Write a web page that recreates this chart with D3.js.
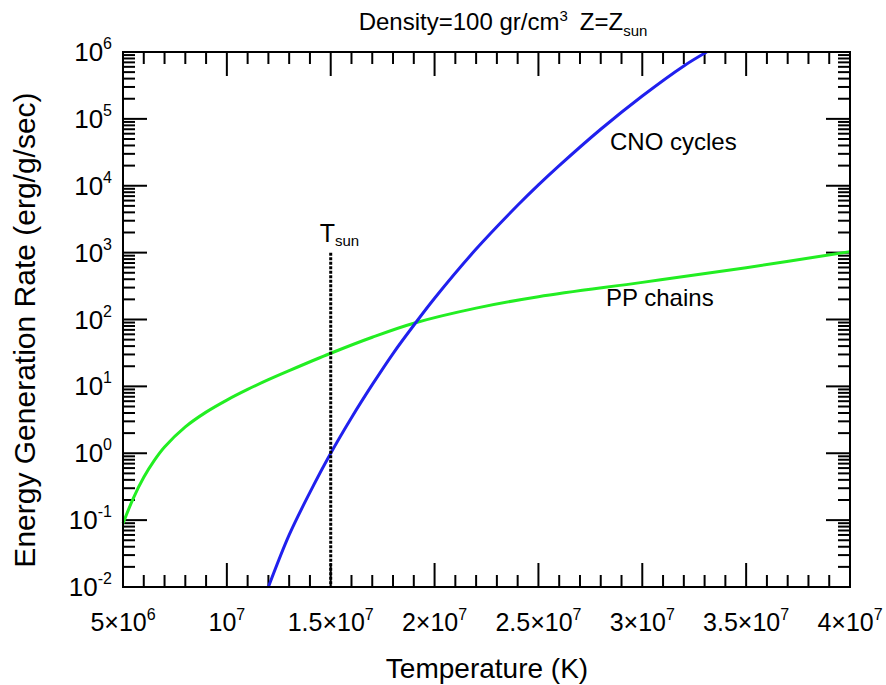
<!DOCTYPE html>
<html>
<head>
<meta charset="utf-8">
<script src="https://cdn.jsdelivr.net/npm/d3@7"></script>
<style>
	body { margin: 0; background: #fff; }
	text { font-family: "Liberation Sans", Arial, Helvetica, sans-serif; fill: #000; }
</style>
</head>
<body>
<svg id="chart" width="886" height="685"></svg>
<script>
/* Data */
const ppTemp = [5e6, 5.5e6, 6e6, 6.5e6, 7e6, 8e6, 9e6, 1e7, 1.1e7, 1.2e7, 1.3e7, 1.5e7, 1.7e7, 1.9e7, 2.2e7, 2.5e7, 3e7, 3.5e7, 4e7];
const ppRate = [0.089, 0.214, 0.437, 0.776, 1.24, 2.48, 4.12, 6.24, 9.0, 12.6, 17.2, 31.3, 54.3, 88, 148, 219, 359, 596, 1035];

const cnoTemp = [1.2e7, 1.3e7, 1.4e7, 1.5e7, 1.6e7, 1.7e7, 1.8e7, 1.9e7, 2e7, 2.2e7, 2.4e7, 2.5e7, 2.6e7, 2.8e7, 3e7, 3.2e7, 3.31e7];
const cnoRate = [0.01, 0.06, 0.26, 1.0, 3.4, 10.6, 31, 82, 208, 1130, 5100, 1.03e4, 2.0e4, 7.0e4, 2.2e5, 6.2e5, 1.0e6];

const tSun = 1.5e7;
const tSunTop = 1e3;

const xMajor = [5e6, 1e7, 1.5e7, 2e7, 2.5e7, 3e7, 3.5e7, 4e7];
const xTickLabels = [["5×10", "6"], ["10", "7"], ["1.5×10", "7"], ["2×10", "7"], ["2.5×10", "7"], ["3×10", "7"], ["3.5×10", "7"], ["4×10", "7"]];
const yExponents = [-2, -1, 0, 1, 2, 3, 4, 5, 6];

/* Layout */
const margin = { left: 123, right: 850, top: 52, bottom: 587 };
const majorLen = 24;
const minorLen = 12;

const svg = d3.select("#chart");

const x = d3.scaleLinear()
	.domain([5e6, 4e7])
	.range([margin.left, margin.right]);

const y = d3.scaleLog()
	.domain([1e-2, 1e6])
	.range([margin.bottom, margin.top]);

const xMinor = d3.range(5e6, 4e7 + 1, 1e6).filter((v) => !xMajor.includes(v));
const yMajor = yExponents.map((e) => Math.pow(10, e));
const yMinor = [];
yExponents.slice(0, -1).forEach((e) => {
	for (let k = 2; k <= 9; k++) yMinor.push(k * Math.pow(10, e));
});

/* Ticks on all four sides, pointing inward */
const ticks = svg.append("g")
	.attr("stroke", "#000")
	.attr("stroke-width", 2);

function xTicks(values, len) {
	values.forEach((v) => {
		ticks.append("line").attr("x1", x(v)).attr("x2", x(v))
			.attr("y1", margin.bottom).attr("y2", margin.bottom - len);
		ticks.append("line").attr("x1", x(v)).attr("x2", x(v))
			.attr("y1", margin.top).attr("y2", margin.top + len);
	});
}

function yTicks(values, len) {
	values.forEach((v) => {
		ticks.append("line").attr("y1", y(v)).attr("y2", y(v))
			.attr("x1", margin.left).attr("x2", margin.left + len);
		ticks.append("line").attr("y1", y(v)).attr("y2", y(v))
			.attr("x1", margin.right).attr("x2", margin.right - len);
	});
}

xTicks(xMajor, majorLen);
xTicks(xMinor, minorLen);
yTicks(yMajor, majorLen);
yTicks(yMinor, minorLen);

/* Curves */
const line = d3.line()
	.x((d) => x(d[0]))
	.y((d) => y(d[1]))
	.curve(d3.curveCatmullRom.alpha(0.5));

svg.append("path")
	.datum(d3.zip(ppTemp, ppRate))
	.attr("d", line)
	.attr("fill", "none")
	.attr("stroke", "#22ee22")
	.attr("stroke-width", 3);

svg.append("path")
	.datum(d3.zip(cnoTemp, cnoRate))
	.attr("d", line)
	.attr("fill", "none")
	.attr("stroke", "#2020ee")
	.attr("stroke-width", 3);

/* T_sun marker */
svg.append("line")
	.attr("x1", x(tSun)).attr("x2", x(tSun))
	.attr("y1", y(tSunTop)).attr("y2", margin.bottom)
	.attr("stroke", "#000")
	.attr("stroke-width", 3)
	.attr("stroke-dasharray", "3,1.5");

const tLabel = svg.append("text")
	.attr("x", x(tSun) - 11)
	.attr("y", 242)
	.style("font-size", "25px");
tLabel.append("tspan").text("T");
tLabel.append("tspan").attr("dy", 4).style("font-size", "15px").text("sun");

/* Frame */
svg.append("rect")
	.attr("x", margin.left)
	.attr("y", margin.top)
	.attr("width", margin.right - margin.left)
	.attr("height", margin.bottom - margin.top)
	.attr("fill", "none")
	.attr("stroke", "#000")
	.attr("stroke-width", 2);

/* Tick labels */
xMajor.forEach((v, i) => {
	const t = svg.append("text")
		.attr("x", x(v))
		.attr("y", 631)
		.attr("text-anchor", "middle")
		.style("font-size", "25px");
	t.append("tspan").text(xTickLabels[i][0]);
	t.append("tspan").attr("dy", -11).style("font-size", "16px").text(xTickLabels[i][1]);
});

yExponents.forEach((e) => {
	const t = svg.append("text")
		.attr("x", 112)
		.attr("y", y(Math.pow(10, e)) + 9)
		.attr("text-anchor", "end")
		.style("font-size", "26px");
	t.append("tspan").text("10");
	t.append("tspan").attr("dy", -12).style("font-size", "16px").text(e);
});

/* Curve labels */
svg.append("text")
	.attr("x", 610).attr("y", 150)
	.style("font-size", "24px")
	.text("CNO cycles");

svg.append("text")
	.attr("x", 606).attr("y", 306)
	.style("font-size", "24px")
	.text("PP chains");

/* Titles */
const title = svg.append("text")
	.attr("x", 503)
	.attr("y", 30)
	.attr("text-anchor", "middle")
	.style("font-size", "24px");
title.append("tspan").text("Density=100 gr/cm");
title.append("tspan").attr("dy", -9).style("font-size", "15px").text("3");
title.append("tspan").attr("dy", 9).attr("dx", 12).text("Z=Z");
title.append("tspan").attr("dy", 6).style("font-size", "15px").text("sun");

svg.append("text")
	.attr("x", 487)
	.attr("y", 678)
	.attr("text-anchor", "middle")
	.style("font-size", "28px")
	.text("Temperature (K)");

svg.append("text")
	.attr("transform", "translate(35,330) rotate(-90)")
	.attr("text-anchor", "middle")
	.style("font-size", "30px")
	.text("Energy Generation Rate (erg/g/sec)");
</script>
</body>
</html>
